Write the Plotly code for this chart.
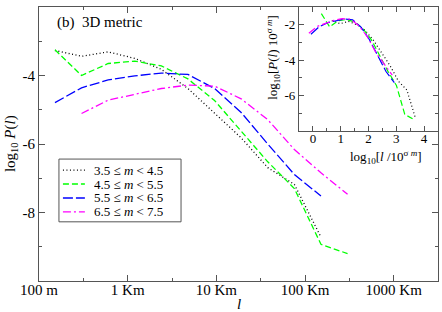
import plotly.graph_objects as go

# ---------------- data ----------------
LOG_L = [2.18, 2.48, 2.78, 3.08, 3.38, 3.68, 3.98, 4.28, 4.58, 4.88, 5.18, 5.48]  # log10(l / m)

SERIES_NAMES = ["3.5 ≤ <i>m</i> &lt; 4.5", "4.5 ≤ <i>m</i> &lt; 5.5",
                "5.5 ≤ <i>m</i> &lt; 6.5", "6.5 ≤ <i>m</i> &lt; 7.5"]
M_CENTER = [4, 5, 6, 7]
SIGMA = 0.375

black_x = LOG_L[0:11]
black_P = [-3.27, -3.44, -3.31, -3.50, -3.82, -4.38, -5.10, -5.82, -6.69, -7.18, -8.72]
green_x = LOG_L[0:12]
green_P = [-3.25, -4.00, -3.65, -3.58, -3.72, -4.10, -4.73, -5.64, -6.52, -7.30, -8.93, -9.20]
blue_x = LOG_L[0:11]
blue_P = [-4.79, -4.36, -4.13, -4.01, -3.93, -3.97, -4.38, -5.08, -6.00, -6.89, -7.52]
magenta_x = LOG_L[1:12]
magenta_P = [-5.11, -4.72, -4.55, -4.38, -4.28, -4.31, -4.68, -5.29, -6.16, -6.84, -7.47]

X_TICKS = [2, 3, 4, 5, 6]
X_TICKTEXT = ["100 m", "1 Km", "10 Km", "100 Km", "1000 Km"]
Y_TICKS = [-2, -4, -6, -8]
Y_TICKTEXT = ["-2", "-4", "-6", "-8"]
IN_X_TICKS = [0, 1, 2, 3, 4]
IN_Y_TICKS = [-2, -4, -6]
IN_Y_TICKTEXT = ["-2", "-4", "-6"]

# ---------------- styles ----------------
FONT = "Liberation Serif"
COLORS = ["#000000", "#00ff00", "#0000ff", "#ff00ff"]
DASHES = ["1px,2.5px", "6px,3px", "10px,3px", "8px,3px,2px,3px"]
AXIS_COLOR = "#555555"

xs = [black_x, green_x, blue_x, magenta_x]
ps = [black_P, green_P, blue_P, magenta_P]

fig = go.Figure()

for i in range(4):
    fig.add_trace(go.Scatter(x=xs[i], y=ps[i], mode="lines",
                             line=dict(color=COLORS[i], dash=DASHES[i], width=1.3),
                             showlegend=False, xaxis="x", yaxis="y"))

for i in range(4):
    shift = SIGMA * M_CENTER[i]
    fig.add_trace(go.Scatter(x=[v - shift for v in xs[i]], y=[v + shift for v in ps[i]],
                             mode="lines",
                             line=dict(color=COLORS[i], dash=DASHES[i], width=1.2),
                             showlegend=False, xaxis="x2", yaxis="y2"))

common_axis = dict(showline=True, linecolor=AXIS_COLOR, linewidth=1, mirror="ticks",
                   ticks="inside", tickcolor=AXIS_COLOR, showgrid=False, zeroline=False,
                   automargin=False)

fig.update_layout(
    width=442, height=312,
    margin=dict(l=39, r=4, t=7, b=31),
    paper_bgcolor="white", plot_bgcolor="white",
    font=dict(family=FONT, size=15, color="black"),
    showlegend=False,
    xaxis=dict(domain=[0, 1], range=[2, 6.5], tickmode="array", tickvals=X_TICKS,
               ticktext=X_TICKTEXT, ticklen=6, ticklabelstandoff=-5,
               minor=dict(tickmode="array", tickvals=[2.5, 3.5, 4.5, 5.5], ticks="inside",
                          ticklen=3, tickcolor=AXIS_COLOR),
               tickfont=dict(size=15), **common_axis),
    yaxis=dict(domain=[0, 1], range=[-10, -2], tickmode="array", tickvals=Y_TICKS,
               ticktext=Y_TICKTEXT, ticklen=6,
               minor=dict(tickmode="array", tickvals=[-9, -7, -5, -3], ticks="inside",
                          ticklen=3, tickcolor=AXIS_COLOR),
               tickfont=dict(size=15), **common_axis),
    xaxis2=dict(domain=[0.6516, 1.0], range=[-0.5, 4.5], anchor="y2", tickmode="array",
                tickvals=IN_X_TICKS, ticklen=5, ticklabelstandoff=-5,
                minor=dict(tickmode="array", tickvals=[0.5, 1.5, 2.5, 3.5], ticks="inside",
                           ticklen=3, tickcolor=AXIS_COLOR),
                tickfont=dict(size=13), **common_axis),
    yaxis2=dict(domain=[0.547, 1.0], range=[-8, -1], anchor="x2", tickmode="array",
                tickvals=IN_Y_TICKS, ticktext=IN_Y_TICKTEXT, ticklen=5,
                minor=dict(tickmode="array", tickvals=[-7, -5, -3], ticks="inside",
                           ticklen=3, tickcolor=AXIS_COLOR),
                tickfont=dict(size=13), **common_axis),
)

ann = []
ann.append(dict(text="(b)  3D metric", x=0.040, y=0.943, xref="paper", yref="paper",
                xanchor="left", yanchor="middle", showarrow=False, font=dict(size=15)))
ann.append(dict(text="log<sub>10</sub> <i>P</i>(<i>l</i>)", x=-0.070, y=0.5, xref="paper",
                yref="paper", textangle=-90, xanchor="center", yanchor="middle",
                showarrow=False, font=dict(size=15)))
ann.append(dict(text="<i>l</i>", x=0.5, y=-0.085, xref="paper", yref="paper",
                xanchor="center", yanchor="middle", showarrow=False, font=dict(size=15)))
ann.append(dict(text="log<sub>10</sub>[<i>l</i> /10<sup>σ <i>m</i></sup>]", x=0.870, y=0.452,
                xref="paper", yref="paper", xanchor="center", yanchor="middle",
                showarrow=False, font=dict(size=13)))
ann.append(dict(text="log<sub>10</sub>[<i>P</i>(<i>l</i>) 10<sup>σ <i>m</i></sup>]", x=0.586,
                y=0.8175, xref="paper", yref="paper", textangle=-90, xanchor="center",
                yanchor="middle", showarrow=False, font=dict(size=13)))

# manual legend
shapes = [dict(type="rect", xref="paper", yref="paper", x0=0.050, x1=0.356, y0=0.216,
               y1=0.445, line=dict(color=AXIS_COLOR, width=1), fillcolor="white", layer="above")]
row_y = [0.405, 0.354, 0.303, 0.252]
for i in range(4):
    shapes.append(dict(type="line", xref="paper", yref="paper", x0=0.060, x1=0.115,
                       y0=row_y[i], y1=row_y[i], layer="above",
                       line=dict(color=COLORS[i], dash=DASHES[i], width=1.3)))
    ann.append(dict(text=SERIES_NAMES[i], x=0.135, y=row_y[i], xref="paper", yref="paper",
                    xanchor="left", yanchor="middle", showarrow=False, height=13,
                    borderpad=0, font=dict(size=13)))

fig.update_layout(annotations=ann, shapes=shapes)
fig.write_html("out.html", config={"displayModeBar": False},
               post_script="document.body.style.margin='0px';")
